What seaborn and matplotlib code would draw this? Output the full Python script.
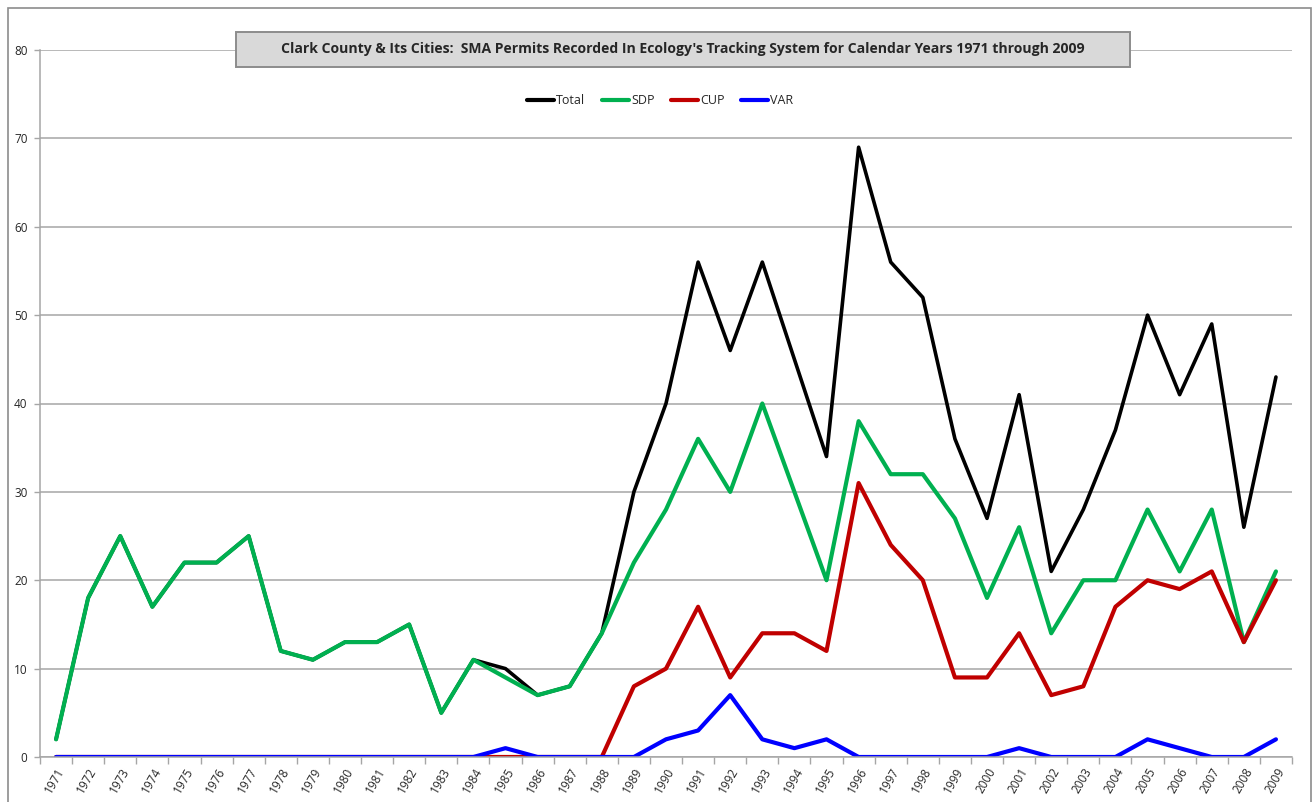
import numpy as np
import pandas as pd
import seaborn as sns
import matplotlib.pyplot as plt
from matplotlib.patches import Rectangle

# Chart data
years = list(range(1971, 2010))
total = [2, 18, 25, 17, 22, 22, 25, 12, 11, 13, 13, 15, 5, 11, 10, 7, 8, 14, 30, 40,
         56, 46, 56, 45, 34, 69, 56, 52, 36, 27, 41, 21, 28, 37, 50, 41, 49, 26, 43]
sdp = [2, 18, 25, 17, 22, 22, 25, 12, 11, 13, 13, 15, 5, 11, 9, 7, 8, 14, 22, 28,
       36, 30, 40, 30, 20, 38, 32, 32, 27, 18, 26, 14, 20, 20, 28, 21, 28, 13, 21]
cup = [0, 0, 0, 0, 0, 0, 0, 0, 0, 0, 0, 0, 0, 0, 0, 0, 0, 0, 8, 10,
       17, 9, 14, 14, 12, 31, 24, 20, 9, 9, 14, 7, 8, 17, 20, 19, 21, 13, 20]
var = [0, 0, 0, 0, 0, 0, 0, 0, 0, 0, 0, 0, 0, 0, 1, 0, 0, 0, 0, 2,
       3, 7, 2, 1, 2, 0, 0, 0, 0, 0, 1, 0, 0, 0, 2, 1, 0, 0, 2]

series_names = ["Total", "SDP", "CUP", "VAR"]
colors = {"Total": "#000000", "SDP": "#00b050", "CUP": "#c00000", "VAR": "#0000ff"}

df = pd.DataFrame({"Year": years, "Total": total, "SDP": sdp, "CUP": cup, "VAR": var})
long_df = df.melt(id_vars="Year", value_vars=series_names,
                  var_name="Series", value_name="Permits")

sns.set_theme(style="white")
plt.rcParams["font.family"] = ["Open Sans", "DejaVu Sans"]

W, H = 1312, 802
fig = plt.figure(figsize=(W / 100, H / 100), dpi=100)
ax = fig.add_axes([40 / W, 1 - 757 / H, (1292 - 40) / W, (757 - 50) / H])

# outer chart frame
fig.patches.append(Rectangle((8 / W, -0.05), (1311 - 8) / W, (1 - 8 / H) + 0.05,
                             transform=fig.transFigure, fill=False,
                             edgecolor="#8c8c8c", linewidth=1.2, zorder=0))

sns.lineplot(data=long_df, x="Year", y="Permits", hue="Series",
             hue_order=series_names, palette=colors, linewidth=3,
             ax=ax, legend=False)
# keep black edge from showing where Total sits under SDP
ax.lines[0].set_linewidth(2.6)

ax.set_xlim(1970.5, 2009.5)
ax.set_ylim(0, 80)
ax.set_yticks(range(0, 81, 10))
ax.yaxis.grid(True, color="#a6a6a6", linewidth=1.1)
ax.set_axisbelow(True)
ax.set_xlabel("")
ax.set_ylabel("")

ax.set_xticks(years)
ax.set_xticklabels([str(y) for y in years], rotation=60, ha="right",
                   rotation_mode="anchor", fontsize=8.5)
ax.set_xticks(np.arange(1970.5, 2010, 1), minor=True)
ax.tick_params(axis="x", which="major", length=0, pad=6)
ax.tick_params(axis="x", which="minor", length=5, color="#a6a6a6", width=1, bottom=True)
ax.tick_params(axis="y", length=4, color="#a6a6a6", width=1, left=True, labelsize=8.5, pad=5)

for side in ["top", "right"]:
    ax.spines[side].set_visible(False)
for side in ["left", "bottom"]:
    ax.spines[side].set_color("#a6a6a6")
    ax.spines[side].set_linewidth(1.1)

# title box
fig.patches.append(Rectangle((236 / W, 1 - 67 / H), (1130 - 236) / W, 35 / H,
                             transform=fig.transFigure, facecolor="#d9d9d9",
                             edgecolor="#8c8c8c", linewidth=1.4, zorder=5))
fig.text(683 / W, 1 - 49.5 / H,
         "Clark County & Its Cities:  SMA Permits Recorded In Ecology's Tracking System for Calendar Years 1971 through 2009",
         ha="center", va="center", fontsize=10.1, fontweight="bold", zorder=6)

# legend
handles = [plt.Line2D([0], [0], color=colors[n], linewidth=3) for n in series_names]
ax.legend(handles, series_names, loc="center", bbox_to_anchor=(660 / W, 1 - 101 / H),
          bbox_transform=fig.transFigure, ncol=4, frameon=False, fontsize=9,
          handlelength=2.2, handletextpad=0.15, columnspacing=1.3)

fig.savefig("out.png", dpi=100)
